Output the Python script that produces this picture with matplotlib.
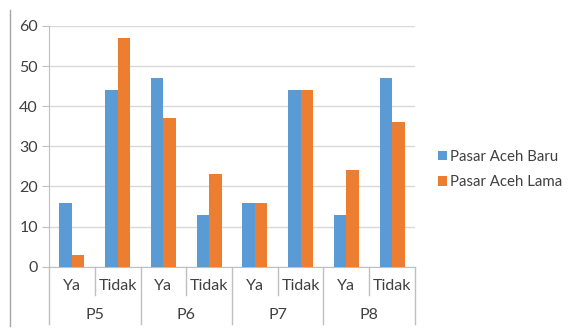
import numpy as np
import matplotlib.pyplot as plt
from matplotlib.lines import Line2D

groups = ['P5', 'P6', 'P7', 'P8']
answers = ['Ya', 'Tidak']
baru = [16, 44, 47, 13, 16, 44, 13, 47]
lama = [3, 57, 37, 23, 16, 44, 24, 36]
series_names = ['Pasar Aceh Baru', 'Pasar Aceh Lama']
colors = ['#5b9bd5', '#ed7d31']

plt.rcParams['font.family'] = ['Lato', 'DejaVu Sans']
axis_gray = '#bfbfbf'
text_gray = '#404040'
fs = 11.5

fig = plt.figure(figsize=(5.7, 3.29), dpi=100)
ax = fig.add_axes([0.086, 0.1894, 0.642, 0.7316])

n = len(baru)
x = np.arange(n)
w = 0.275
ax.bar(x - w / 2, baru, w, color=colors[0], label=series_names[0], zorder=3)
ax.bar(x + w / 2, lama, w, color=colors[1], label=series_names[1], zorder=3)

ax.set_xlim(-0.5, n - 0.5)
ax.set_ylim(0, 60)
ax.set_yticks(range(0, 61, 10))
ax.yaxis.grid(True, color='#d9d9d9', linewidth=1, zorder=0)
ax.tick_params(axis='y', length=5, color=axis_gray, labelsize=fs, labelcolor=text_gray, pad=3)
ax.set_xticks([])
for s in ['top', 'right']:
    ax.spines[s].set_visible(False)
ax.spines['left'].set_color(axis_gray)
ax.spines['bottom'].set_color(axis_gray)

# multi-level category axis
trans = ax.get_xaxis_transform()
for i in range(n):
    ax.text(i, -0.08, answers[i % 2], transform=trans, ha='center', va='center',
            fontsize=fs, color=text_gray)
for i in range(n + 1):
    pos = i - 0.5
    bottom = -0.238 if i % 2 == 0 else -0.1176
    ax.add_line(Line2D([pos, pos], [0, bottom], transform=trans, color=axis_gray,
                       linewidth=1, clip_on=False))
for j, g in enumerate(groups):
    ax.text(2 * j + 0.5, -0.2, g, transform=trans, ha='center', va='center',
            fontsize=fs, color=text_gray)

# chart area border on the left
fig.add_artist(Line2D([0.017, 0.017], [0.01, 0.97], transform=fig.transFigure,
                      color='#a6a6a6', linewidth=1))

ax.legend(loc='center left', bbox_to_anchor=(1.025, 0.404), frameon=False,
          fontsize=10.8, handlelength=0.6, handleheight=0.6, handletextpad=0.25,
          labelspacing=0.75, labelcolor=text_gray)

fig.savefig('out.png', dpi=100)
